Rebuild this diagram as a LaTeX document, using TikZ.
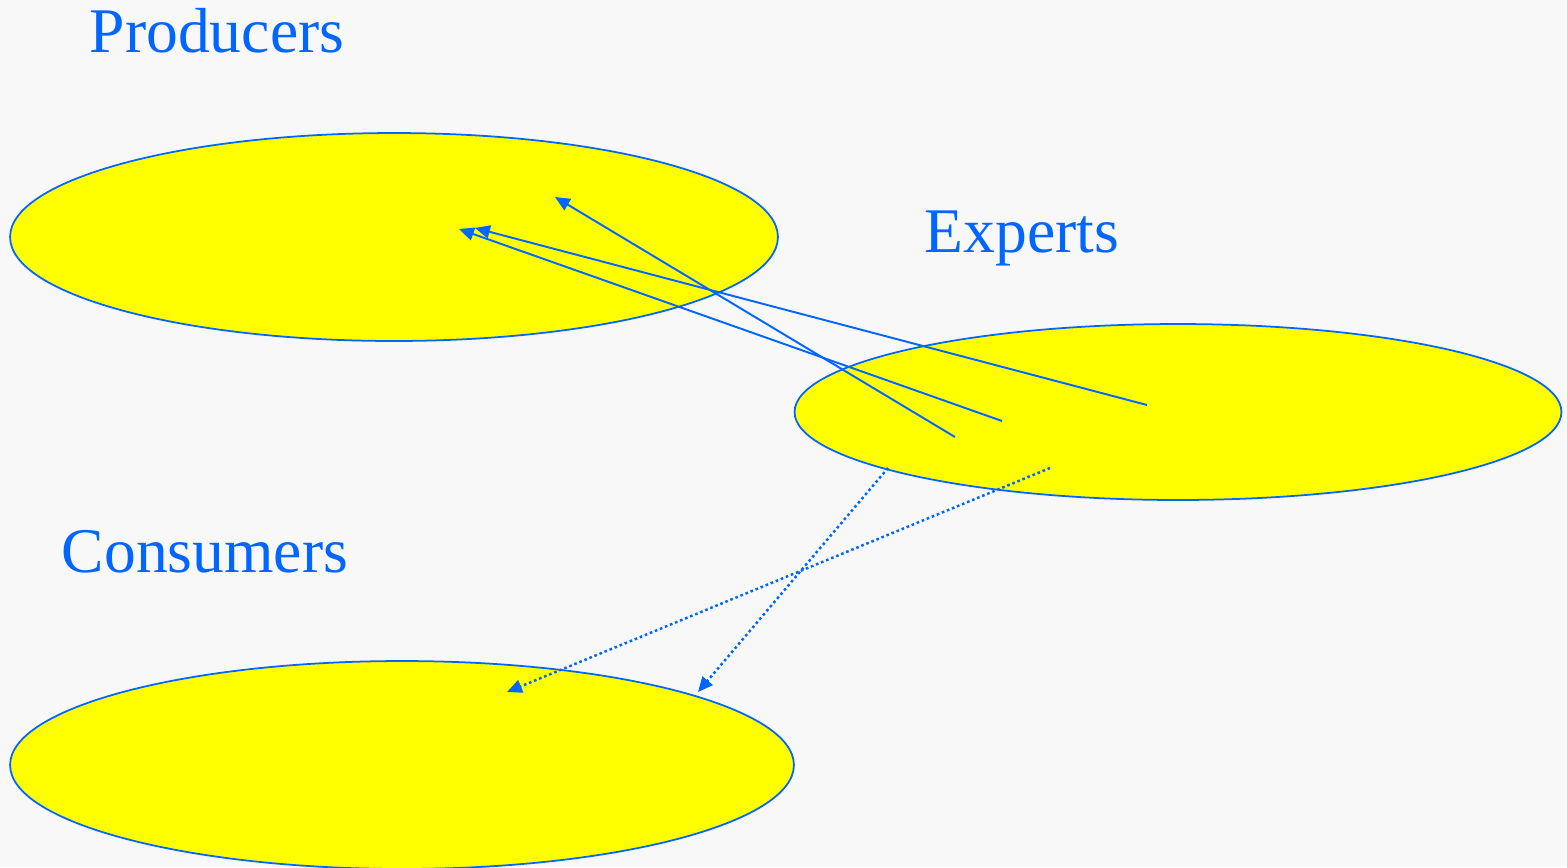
\documentclass[tikz,border=0pt]{standalone}
\usepackage{fontspec}
\setmainfont{Liberation Serif}
\usetikzlibrary{arrows.meta,shapes.geometric}
\definecolor{Blue}{HTML}{0066FF}
\definecolor{Sun}{HTML}{FFFF00}
\definecolor{Paper}{HTML}{F8F8F8}

\begin{document}
\begin{tikzpicture}[
  x=0.02cm,y=-0.02cm,
  >={Triangle[length=8.5pt,width=7.5pt]},
  blob/.style={ellipse,draw=Blue,line width=1pt,fill=Sun,inner sep=0pt},
  title/.style={anchor=base,text=Blue,font=\fontsize{36.2}{40}\selectfont},
  link/.style={->,Blue,line width=1.1pt},
  hint/.style={link,line width=1.4pt,line cap=butt,dash pattern=on 1.5pt off 1.6pt}
]
  \fill[Paper] (0,0) rectangle (1567,867);
  \useasboundingbox (0,0) rectangle (1567,867);
  % the three groups
  \node[blob,minimum width=15.36cm,minimum height=4.16cm] (prod) at (394,237) {};
  \node[blob,minimum width=15.34cm,minimum height=3.52cm] (exp) at (1178,412) {};
  \node[blob,minimum width=15.68cm,minimum height=4.16cm] (cons) at (402,765) {};
  \node[title] (prodlbl) at (217,52) {Producers};
  \node[title] (explbl) at (1022,252) {Experts};
  \node[title] (conslbl) at (205,572) {Consumers};
  % end points
  \coordinate (e1) at (955,437);
  \coordinate (e2) at (1002,421);
  \coordinate (e3) at (1147,405);
  \coordinate (e4) at (888,468);
  \coordinate (e5) at (1050,468);
  \coordinate (p1) at (555,197);
  \coordinate (p2) at (459,229);
  \coordinate (p3) at (475,228);
  \coordinate (c1) at (698,692);
  \coordinate (c2) at (507,692);
  \draw[link] (e1) -- (p1);
  \draw[link] (e2) -- (p2);
  \draw[link] (e3) -- (p3);
  \draw[hint] (e4) -- (c1);
  \draw[hint] (e5) -- (c2);
\end{tikzpicture}
\end{document}
